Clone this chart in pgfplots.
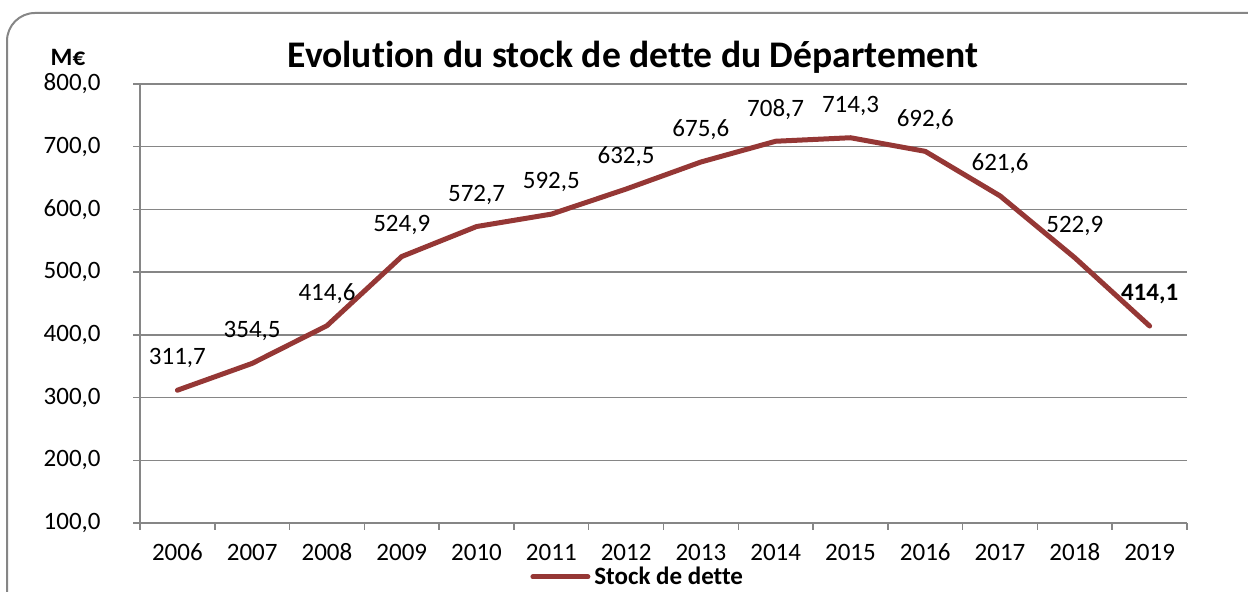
\documentclass[border=0pt]{standalone}
\usepackage{fontspec}
\setmainfont{Carlito}[Ligatures=CommonOff]
\usepackage{pgfplots}
\pgfplotsset{compat=1.18}
\definecolor{serie}{HTML}{953735}
\definecolor{gridc}{HTML}{868686}
\begin{document}
\begin{tikzpicture}
\useasboundingbox (0,0) rectangle (624pt,296pt);
\draw[gridc, line width=1pt, rounded corners=14pt] (3.5pt,-20pt) rectangle (640pt,289.5pt);
\begin{axis}[
  at={(70pt,34.5pt)}, anchor=south west,
  scale only axis, width=523.5pt, height=219.5pt,
  xmin=-0.5, xmax=13.5, ymin=100, ymax=800,
  ytick={100,200,...,800},
  xtick={0,...,13},
  xticklabels={2006,2007,2008,2009,2010,2011,2012,2013,2014,2015,2016,2017,2018,2019},
  minor xtick={-0.5,0.5,...,13.5},
  axis x line*=bottom, axis y line*=left,
  axis line style={gridc, line width=0.75pt, -},
  ymajorgrids, grid style={gridc, line width=0.75pt},
  tick align=outside,
  major tick length=3.5pt, minor tick length=3.5pt,
  tick style={gridc, line width=0.75pt},
  major x tick style={draw=none},
  tick label style={font=\fontsize{12.5}{15}\selectfont, text=black},
  yticklabel style={anchor=east, inner sep=0pt, xshift=-16pt},
  xticklabel style={anchor=center, inner sep=0pt, yshift=-11pt},
  /pgf/number format/.cd, use comma, fixed, fixed zerofill, precision=1, assume math mode=true,
  /pgfplots/.cd,
  point meta=explicit symbolic,
  nodes near coords,
  nodes near coords style={font=\fontsize{12.5}{15}\selectfont, anchor=center, yshift=16pt, text=black},
  legend style={at={(0.3725,-0.123)}, anchor=west, draw=none, fill=none, inner sep=0pt,
    font=\fontsize{12.5}{15}\selectfont\bfseries},
  legend image code/.code={\draw[#1, line width=2.5pt] (0pt,0pt) -- (27.5pt,0pt);},
]
\addplot[serie, line width=2.5pt, line join=round, line cap=round, mark=none] coordinates {
(0,311.7) [311,7]
(1,354.5) [354,5]
(2,414.6) [414,6]
(3,524.9) [524,9]
(4,572.7) [572,7]
(5,592.5) [592,5]
(6,632.5) [632,5]
(7,675.6) [675,6]
(8,708.7) [708,7]
(9,714.3) [714,3]
(10,692.6) [692,6]
(11,621.6) [621,6]
(12,522.9) [522,9]
(13,414.1) [\textbf{414,1}]
};
\addlegendentry{Stock de dette}
\end{axis}
\node[font=\fontsize{18.8}{22}\selectfont\bfseries] at (316.5pt,267.5pt) {Evolution du stock de dette du Département};
\node[font=\fontsize{12.5}{15}\selectfont\bfseries] at (34pt,267.5pt) {M€};
\end{tikzpicture}
\end{document}
